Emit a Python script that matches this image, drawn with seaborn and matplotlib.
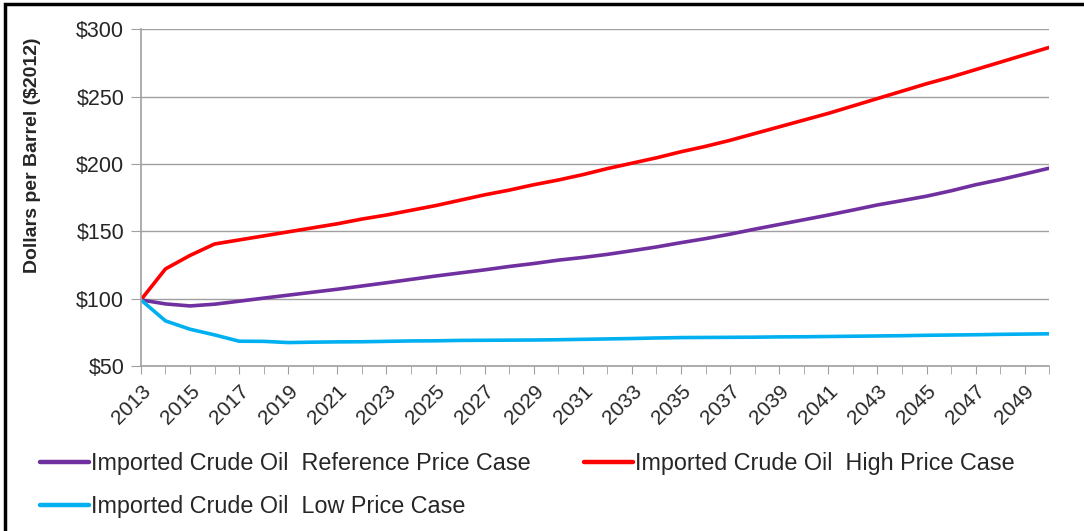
import numpy as np
import pandas as pd
import seaborn as sns
import matplotlib.pyplot as plt
from matplotlib.patches import Rectangle
from matplotlib.ticker import FuncFormatter, MultipleLocator

years = list(range(2013, 2051))

reference = [99, 96, 94.5, 95.8, 98, 100.3, 102.5, 104.7, 106.9, 109.3,
             111.7, 114.2, 116.7, 119, 121.3, 123.8, 126, 128.5, 130.5, 132.8,
             135.5, 138.3, 141.5, 144.5, 147.8, 151.5, 155, 158.5, 162, 165.7,
             169.5, 172.7, 176, 180, 184.5, 188.3, 192.5, 196.8]
high = [99, 122, 132, 140.5, 143.5, 146.5, 149.5, 152.5, 155.5, 159,
        162, 165.5, 169, 173, 177, 180.5, 184.5, 188, 192, 196.5,
        200.5, 204.5, 209, 213, 217.5, 222.5, 227.5, 232.5, 237.5, 243,
        248.5, 254, 259.5, 264.5, 270, 275.5, 281, 286.5]
low = [99, 83.4, 77.2, 73, 68.3, 68.2, 67.3, 67.6, 67.8, 67.9,
       68.2, 68.5, 68.6, 68.9, 69, 69.1, 69.2, 69.4, 69.7, 70,
       70.3, 70.7, 71, 71.1, 71.2, 71.3, 71.5, 71.6, 71.8, 72,
       72.2, 72.4, 72.7, 72.9, 73.1, 73.4, 73.6, 73.8]

names = ["Imported Crude Oil  Reference Price Case",
         "Imported Crude Oil  High Price Case",
         "Imported Crude Oil  Low Price Case"]
colors = ["#7030A0", "#FF0000", "#00B0F0"]

rows = []
for name, vals in zip(names, [reference, high, low]):
    for y, v in zip(years, vals):
        rows.append([y, v, name])
df = pd.DataFrame(rows, columns=["year", "price", "case"])

sns.set_style("white")
plt.rcParams["font.family"] = ["Liberation Sans", "DejaVu Sans"]

fig = plt.figure(figsize=(10.84, 5.31), dpi=100)
ax = fig.add_axes([0.130, 0.311, 0.838, 0.634])

sns.lineplot(data=df, x="year", y="price", hue="case", hue_order=names,
             palette=colors, linewidth=2.6, ax=ax, legend=False)

ax.set_xlim(2013, 2050)
ax.set_ylim(50, 300)
ax.yaxis.set_major_locator(MultipleLocator(50))
ax.yaxis.set_major_formatter(FuncFormatter(lambda v, p: "${:.0f}".format(v)))
ax.set_xticks(years, minor=True)
ax.set_xticks(years[::2])
ax.set_xticklabels([str(y) for y in years[::2]], rotation=45, ha="right",
                   rotation_mode="anchor", fontsize=15)
ax.tick_params(axis="y", labelsize=15.5, length=7, color="#A0A0A0",
               direction="out", left=True, pad=5)
ax.tick_params(axis="x", which="both", length=6, color="#A0A0A0",
               direction="out", bottom=True, pad=5)
ax.grid(axis="y", color="#A0A0A0", linewidth=1)
ax.set_axisbelow(True)
for s in ["top", "right"]:
    ax.spines[s].set_visible(False)
for s in ["left", "bottom"]:
    ax.spines[s].set_color("#A0A0A0")
    ax.spines[s].set_linewidth(1.2)

ax.set_xlabel("")
ax.set_ylabel("Dollars per Barrel ($2012)", fontsize=14, fontweight="bold")
ax.yaxis.set_label_coords(-0.110, 0.625)

lines = ax.get_lines()
order = [0, 2, 1]
leg = fig.legend([lines[i] for i in order], [names[i] for i in order],
                 loc="upper left", bbox_to_anchor=(0.037, 0.148), ncol=2,
                 frameon=False, fontsize=16.8, handlelength=2.1,
                 handletextpad=0.08, columnspacing=2.3, labelspacing=0.85,
                 borderaxespad=0, borderpad=0)
for h in leg.legend_handles:
    h.set_linewidth(3.2)

fig.add_artist(Rectangle((0.0048, -0.2), 1.2, 1.2 - 0.0075, transform=fig.transFigure,
                         fill=False, edgecolor="black", linewidth=2.5))

plt.savefig("out.png", dpi=100)
plt.close()
